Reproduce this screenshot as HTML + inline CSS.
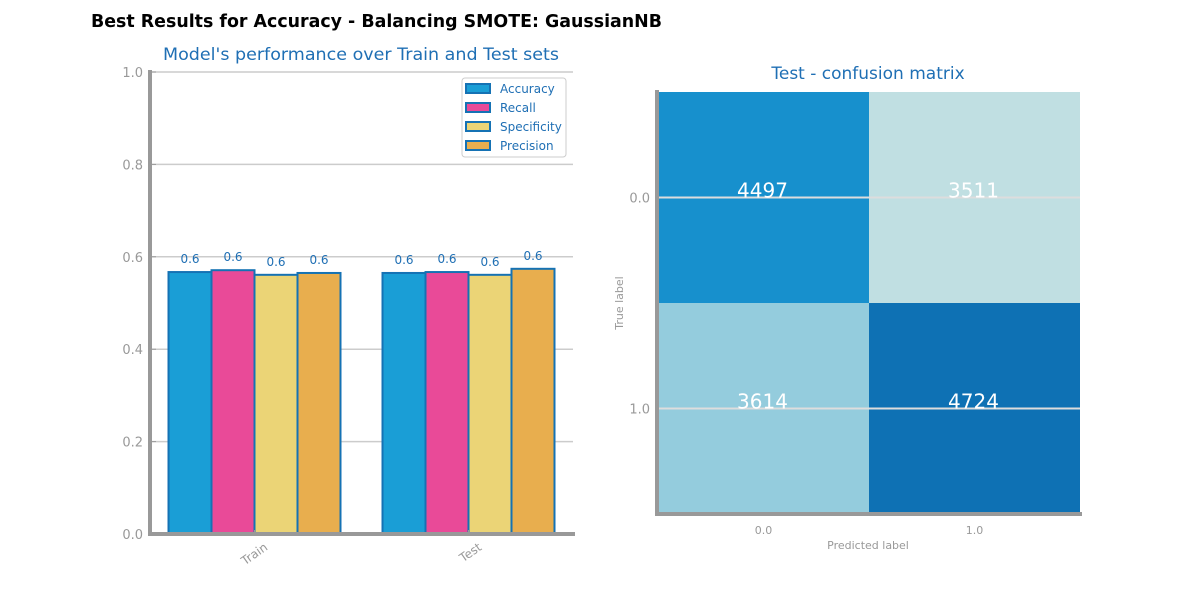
<!DOCTYPE html>
<html><head><meta charset="utf-8"><style>
body{margin:0;background:#fff;font-family:"DejaVu Sans","Liberation Sans",sans-serif;}
</style></head><body>
<svg width="1200" height="600" xmlns="http://www.w3.org/2000/svg" font-family="DejaVu Sans, Liberation Sans, sans-serif">
<text x="91" y="27" font-size="18" font-weight="bold" fill="#000" textLength="571" lengthAdjust="spacingAndGlyphs">Best Results for Accuracy - Balancing SMOTE: GaussianNB</text>
<text x="361" y="60" font-size="17" fill="#1f6fb4" text-anchor="middle" textLength="396" lengthAdjust="spacingAndGlyphs">Model's performance over Train and Test sets</text>
<g id="bars"></g>
<text x="868" y="79" font-size="17" fill="#1f6fb4" text-anchor="middle">Test - confusion matrix</text>
<g id="cm"></g>
</svg>
<script>
const NS="http://www.w3.org/2000/svg";
const categories=["Train","Test"];
const metrics=["Accuracy","Recall","Specificity","Precision"];
const trainVals=[0.567,0.571,0.561,0.565];
const testVals=[0.565,0.567,0.561,0.574];
const yTicks=[0,0.2,0.4,0.6,0.8,1.0];
const colors=["#1a9ed6","#e94a98","#ebd476","#e8ae4e"];
const cmValues=[[4497,3511],[3614,4724]];
const cmColors=[["#1790cd","#c0dfe2"],["#94ccdd","#0e71b4"]];
const cmTicks=["0.0","1.0"];
function mk(tag,attrs,parent,text){const e=document.createElementNS(NS,tag);for(const k in attrs)e.setAttribute(k,attrs[k]);if(text!==undefined)e.textContent=text;parent.appendChild(e);return e;}
const bars=document.getElementById('bars');
const y=v=>534-v*462;
const xc=i=>254.5+i*214;
const bw=43;
yTicks.forEach(t=>{
 const l=mk('line',{x1:150,x2:573,y1:y(t),y2:y(t),stroke:'#cccccc','stroke-width':1.5},bars);
 
 mk('line',{x1:150,x2:156,y1:y(t),y2:y(t),stroke:'#999','stroke-width':1},bars);
 const tx=mk('text',{x:143,y:y(t)+5,'font-size':13,fill:'#999','text-anchor':'end'},bars,t.toFixed(1));
 
});
const series=[trainVals,testVals];
categories.forEach((c,i)=>{
 series[i].forEach((v,j)=>{
  const x=xc(i)+(j-2)*bw;
  const r=mk('rect',{x:x,y:y(v),width:bw,height:534-y(v),fill:colors[j],stroke:'#1572b4','stroke-width':2},bars);
  
  
  const t=mk('text',{x:x+bw/2,y:y(v)-9,'font-size':12,fill:'#1f6fb4','text-anchor':'middle'},bars,v.toFixed(1));
  
 });
 mk('line',{x1:xc(i),x2:xc(i),y1:530,y2:536,stroke:'#999'},bars);
 const ax=xc(i)+14, ay=549;
 const tl=mk('text',{x:ax,y:ay,'font-size':12,fill:'#999','text-anchor':'end',transform:`rotate(-35 ${ax} ${ay})`},bars,c);
 
});
mk('line',{x1:150,x2:150,y1:70,y2:536,stroke:'#999','stroke-width':4},bars);
mk('line',{x1:148,x2:575,y1:534,y2:534,stroke:'#999','stroke-width':4},bars);
const lg=mk('g',{},bars);
mk('rect',{x:462,y:78,width:104,height:79,rx:3,fill:'#fff',stroke:'#ccc'},lg);
metrics.forEach((m,j)=>{
 const yy=89+j*19;
 const s=mk('rect',{x:466,y:yy-5,width:24,height:9,fill:colors[j],stroke:'#1572b4','stroke-width':2},lg);
 
 const t=mk('text',{x:500,y:yy+4,'font-size':12,fill:'#1f6fb4'},lg,m);
 
});
const cm=document.getElementById('cm');
const cx0=658,cy0=92,cs=211;
cmValues.forEach((row,r)=>row.forEach((v,c)=>{
 const rc=mk('rect',{x:cx0+c*cs,y:cy0+r*cs,width:cs,height:cs,fill:cmColors[r][c]},cm);
 
}));
cmTicks.forEach((t,i)=>{
 const cc=cx0+cs/2+i*cs;
 mk('line',{x1:cx0,x2:1080,y1:cy0+cs/2+i*cs,y2:cy0+cs/2+i*cs,stroke:'#ddd','stroke-width':2},cm);
 const yl=mk('text',{x:650,y:cy0+cs/2+i*cs+5,'font-size':13,fill:'#999','text-anchor':'end'},cm,t);
 
 const xl=mk('text',{x:cc,y:534,'font-size':11,fill:'#999','text-anchor':'middle'},cm,t);
 
});
cmValues.forEach((row,r)=>row.forEach((v,c)=>{
 const t=mk('text',{x:cx0+cs/2+c*cs-1,y:cy0+cs/2+r*cs,'font-size':20,fill:'#fff','text-anchor':'middle'},cm,String(v));
 
}));
mk('line',{x1:657,x2:657,y1:90,y2:516,stroke:'#999','stroke-width':4},cm);
mk('line',{x1:655,x2:1082,y1:514,y2:514,stroke:'#999','stroke-width':4},cm);
const xt=mk('text',{x:868,y:549,'font-size':11,fill:'#999','text-anchor':'middle'},cm,'Predicted label');

const yt=mk('text',{x:623,y:303,'font-size':11,fill:'#999','text-anchor':'middle',transform:'rotate(-90 623 303)'},cm,'True label');

</script>
</body></html>
